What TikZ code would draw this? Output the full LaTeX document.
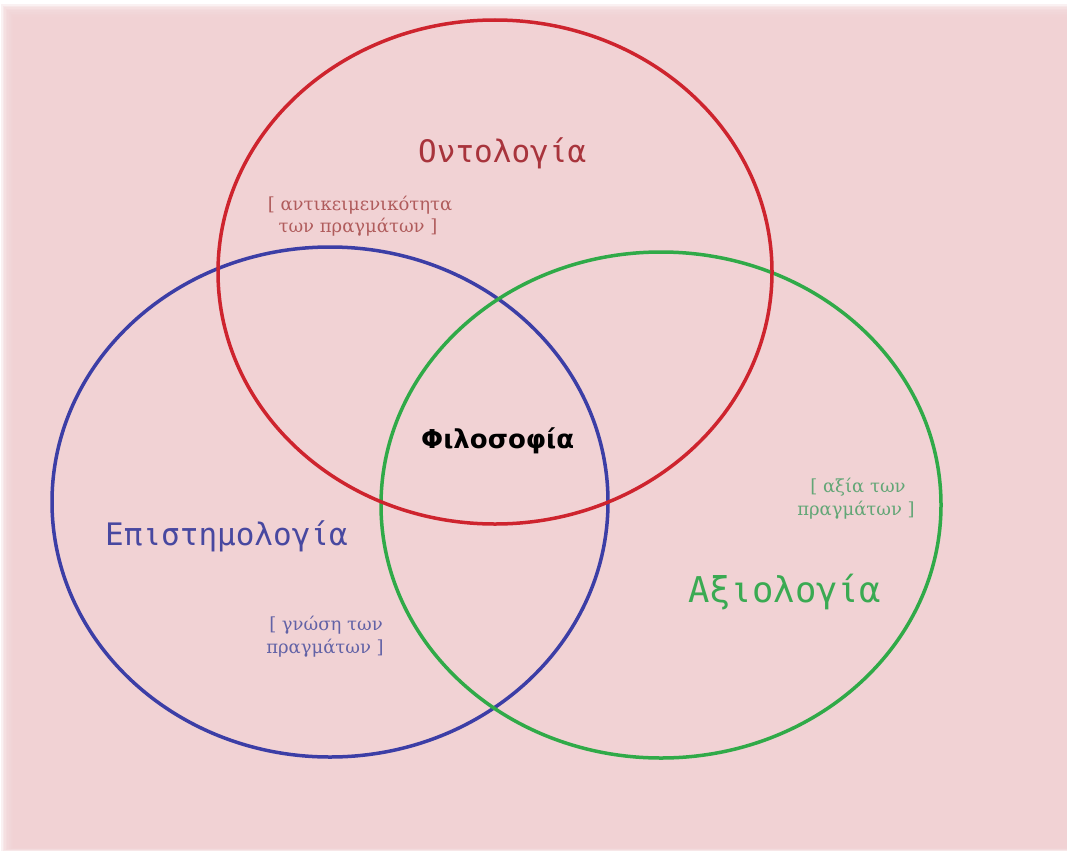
\documentclass[tikz,border=0pt]{standalone}
\usepackage{fontspec}
\setmainfont{DejaVu Serif}
\newfontfamily\monofont{DejaVu Sans Mono}
\newfontfamily\boldsans{DejaVu Sans}
\definecolor{bgpink}{RGB}{241,210,212}
\definecolor{ringred}{RGB}{206,36,46}
\definecolor{ringblue}{RGB}{60,62,166}
\definecolor{ringgreen}{RGB}{48,170,72}
\definecolor{txtred}{RGB}{168,52,60}
\definecolor{txtblue}{RGB}{72,72,160}
\definecolor{txtgreen}{RGB}{58,170,82}
\definecolor{notered}{RGB}{176,92,92}
\definecolor{noteblue}{RGB}{98,98,166}
\definecolor{notegreen}{RGB}{98,166,118}
\tikzset{
  ring/.style={line width=3.5pt},
  title/.style={inner sep=0pt, anchor=base west, font=\monofont\fontsize{31}{31}\selectfont},
  note/.style={inner sep=0pt, anchor=base, font=\fontsize{18}{22}\selectfont},
}
\begin{document}
\begin{tikzpicture}[x=1pt, y=-1pt]
  \useasboundingbox (0,0) rectangle (1067,851);
  \fill[white] (0,0) rectangle (1067,851);
  % soft-edged pink sheet
  \foreach \i in {0,...,7}
    \fill[bgpink, opacity=0.3] (1+\i*1.6, 4+\i*1.6) rectangle (1067, 851-\i*0.4);
  \fill[bgpink] (13,17) rectangle (1067,848);

  % the three overlapping fields
  \draw[ring, ringblue]  (330,502) ellipse [x radius=278, y radius=255];
  \draw[ring, ringgreen] (661,505) ellipse [x radius=280, y radius=253];
  \draw[ring, ringred]   (495,272) ellipse [x radius=277, y radius=252];

  % field names
  \node[title, txtred]   (ont)  at (418,162) {Οντολογία};
  \node[title, txtblue]  (epi)  at (105,545) {Επιστημολογία};
  \node[title, txtgreen, font=\monofont\fontsize{35.5}{35.5}\selectfont] (axi) at (688,602) {Αξιολογία};
  \node[inner sep=0pt, anchor=base west, font=\boldsans\bfseries\fontsize{26}{26}\selectfont] (phil) at (421,448) {Φιλοσοφία};

  % bracketed notes
  \node[note, notered]   (ont1) at (360,210) {[ αντικειμενικότητα};
  \node[note, notered]   (ont2) at (358,232) {των πραγμάτων ]};
  \node[note, noteblue]  (epi1) at (326,630) {[ γνώση των};
  \node[note, noteblue]  (epi2) at (325,653) {πραγμάτων ]};
  \node[note, notegreen] (axi1) at (858,492) {[ αξία των};
  \node[note, notegreen] (axi2) at (856,515) {πραγμάτων ]};
\end{tikzpicture}
\end{document}
